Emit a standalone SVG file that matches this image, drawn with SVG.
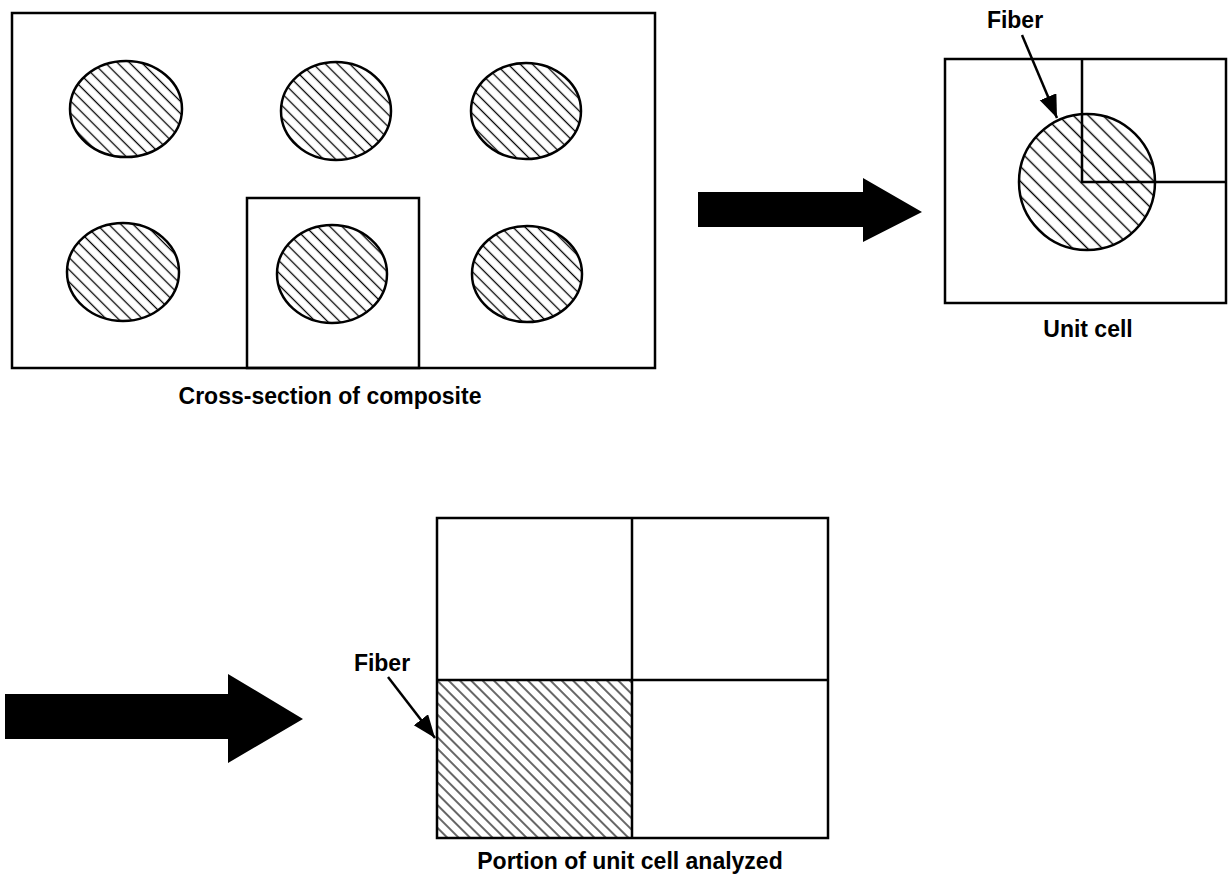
<svg xmlns="http://www.w3.org/2000/svg" width="1228" height="878" viewBox="0 0 1228 878">
  <style>
    .box { fill: none; stroke: #000; stroke-width: 2.5; }
    .fib { stroke: #000; stroke-width: 2.5; }
    .lbl { font-family: "Liberation Sans", Arial, sans-serif; font-weight: bold; font-size: 23px; fill: #000; }
    .ptr { stroke: #000; stroke-width: 2.5; fill: none; }
    .big { fill: #000; stroke: none; }
  </style>
  <defs>
    <pattern id="hatchS" patternUnits="userSpaceOnUse" width="20" height="8.6" patternTransform="rotate(45)">
      <line x1="0" y1="4.3" x2="20" y2="4.3" stroke="#000" stroke-width="1.3"/>
    </pattern>
    <pattern id="hatchL" patternUnits="userSpaceOnUse" width="20" height="10.5" patternTransform="rotate(45)">
      <line x1="0" y1="5.2" x2="20" y2="5.2" stroke="#000" stroke-width="1.4"/>
    </pattern>
    <pattern id="hatchQ" patternUnits="userSpaceOnUse" width="20" height="8" patternTransform="rotate(45)">
      <line x1="0" y1="4" x2="20" y2="4" stroke="#000" stroke-width="1.2"/>
    </pattern>
    <marker id="head" markerUnits="userSpaceOnUse" markerWidth="26" markerHeight="20" refX="23" refY="9" orient="auto">
      <path d="M0,0 L23,9 L0,18 Z" fill="#000"/>
    </marker>
  </defs>

  <g id="composite">
    <rect class="box" x="12" y="13" width="643" height="355"/>
    <ellipse class="fib" fill="url(#hatchS)" cx="126" cy="109" rx="56" ry="48"/>
    <ellipse class="fib" fill="url(#hatchS)" cx="336" cy="111" rx="55" ry="49"/>
    <ellipse class="fib" fill="url(#hatchS)" cx="526" cy="111" rx="55" ry="48"/>
    <ellipse class="fib" fill="url(#hatchS)" cx="123" cy="272" rx="56" ry="49"/>
    <ellipse class="fib" fill="url(#hatchS)" cx="332" cy="274" rx="55" ry="49"/>
    <ellipse class="fib" fill="url(#hatchS)" cx="527" cy="274" rx="55" ry="48"/>
    <rect class="box" x="247" y="198" width="172" height="170"/>
    <text class="lbl" x="330" y="404" text-anchor="middle">Cross-section of composite</text>
  </g>

  <g id="unit-cell">
    <rect class="box" x="945" y="59" width="281" height="244"/>
    <ellipse class="fib" fill="url(#hatchL)" cx="1087" cy="182" rx="68" ry="68"/>
    <polyline class="box" points="1082,59 1082,182 1226,182"/>
    <text class="lbl" x="1015" y="28" text-anchor="middle">Fiber</text>
    <text class="lbl" x="1088" y="337" text-anchor="middle">Unit cell</text>
  </g>

  <g id="portion">
    <rect x="437" y="680" width="195" height="158" fill="url(#hatchQ)"/>
    <rect class="box" x="437" y="518" width="391" height="320"/>
    <line class="box" x1="632" y1="518" x2="632" y2="838"/>
    <line class="box" x1="437" y1="680" x2="828" y2="680"/>
    <text class="lbl" x="382" y="671" text-anchor="middle">Fiber</text>
    <text class="lbl" x="630" y="869" text-anchor="middle">Portion of unit cell analyzed</text>
  </g>

  <g id="connectors">
    <polygon class="big" points="698,192 863,192 863,178 922,212 863,242 863,227 698,227"/>
    <polygon class="big" points="5,694 228,694 228,674 303,719 228,763 228,739 5,739"/>
    <line class="ptr" x1="1022" y1="35" x2="1057" y2="118" marker-end="url(#head)"/>
    <line class="ptr" x1="388" y1="677" x2="435" y2="738" marker-end="url(#head)"/>
  </g>
</svg>
